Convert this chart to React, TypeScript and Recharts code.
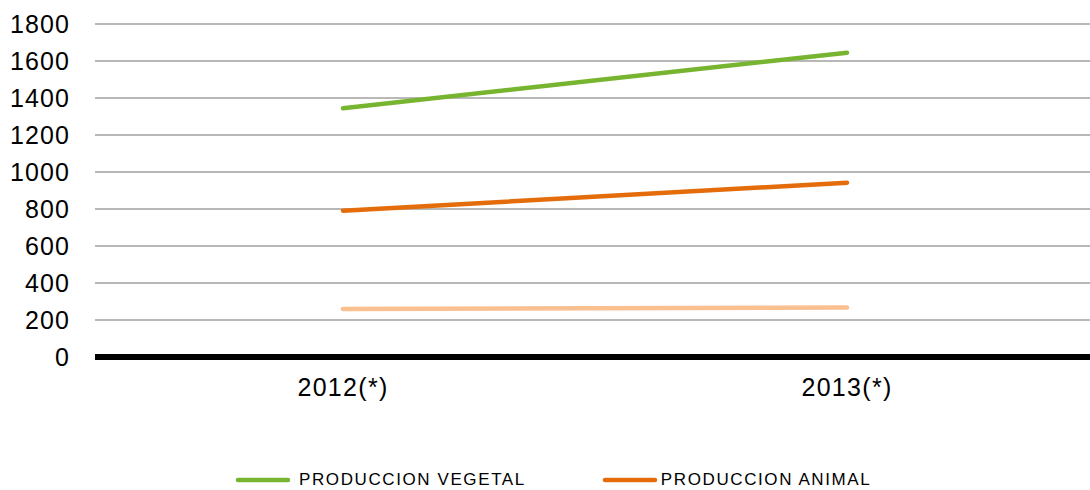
import React from "react";
import { LineChart, Line, XAxis, YAxis, CartesianGrid, Legend } from "recharts";

const years = ["2012(*)", "2013(*)"];
const vegetal = [1345, 1645];
const animal = [791, 942];
const otros = [259, 268];
const yTicks = [0, 200, 400, 600, 800, 1000, 1200, 1400, 1600, 1800];

const data = years.map((year, i) => ({
  year,
  vegetal: vegetal[i],
  animal: animal[i],
  otros: otros[i],
}));

const FONT = "'Liberation Sans', Arial, sans-serif";

function LegendContent() {
  const items = [
    { label: "PRODUCCION VEGETAL", color: "#77B530", gap: 8, after: 76 },
    { label: "PRODUCCION ANIMAL", color: "#E46C0A", gap: 3, after: 0 },
  ];
  return (
    <div style={{ display: "flex", alignItems: "center", paddingLeft: 235, fontFamily: FONT }}>
      {items.map((it) => (
        <div key={it.label} style={{ display: "flex", alignItems: "center", marginRight: it.after }}>
          <svg width={56} height={8}>
            <line x1={3} y1={4} x2={53} y2={4} stroke={it.color} strokeWidth={4.5} strokeLinecap="round" />
          </svg>
          <span style={{ marginLeft: it.gap, fontSize: 17, letterSpacing: 1.6, color: "#000" }}>{it.label}</span>
        </div>
      ))}
    </div>
  );
}

export default function App() {
  return (
    <div style={{ position: "absolute", top: 0, left: 0, width: 1090, height: 490, overflow: "hidden", background: "#fff" }}>
      <LineChart
        width={1103}
        height={490}
        data={data}
        margin={{ top: 24, right: 0, left: 0, bottom: 73 }}
        style={{ fontFamily: FONT }}
      >
        <CartesianGrid vertical={false} stroke="#a0a0a0" strokeWidth={1.5} />
        <XAxis
          dataKey="year"
          height={60}
          padding={{ left: 248, right: 256 }}
          axisLine={{ stroke: "#000", strokeWidth: 6 }}
          tickLine={false}
          tickMargin={15}
          tick={{ fontSize: 25, fill: "#000", letterSpacing: 1.3 }}
        />
        <YAxis
          width={95}
          domain={[0, 1800]}
          ticks={yTicks}
          axisLine={false}
          tickLine={false}
          tickMargin={19}
          tick={{ fontSize: 25, fill: "#000", letterSpacing: 1.1 }}
        />
        <Legend
          layout="horizontal"
          verticalAlign="middle"
          content={<LegendContent />}
          wrapperStyle={{ top: 470, left: 0, width: 1090 }}
        />
        <Line
          dataKey="vegetal"
          name="PRODUCCION VEGETAL"
          stroke="#77B530"
          strokeWidth={4.5}
          strokeLinecap="round"
          dot={false}
          activeDot={false}
          isAnimationActive={false}
        />
        <Line
          dataKey="animal"
          name="PRODUCCION ANIMAL"
          stroke="#E46C0A"
          strokeWidth={4.5}
          strokeLinecap="round"
          dot={false}
          activeDot={false}
          isAnimationActive={false}
        />
        <Line
          dataKey="otros"
          name="OTROS"
          legendType="none"
          stroke="#FAC090"
          strokeWidth={4.5}
          strokeLinecap="round"
          dot={false}
          activeDot={false}
          isAnimationActive={false}
        />
      </LineChart>
    </div>
  );
}
